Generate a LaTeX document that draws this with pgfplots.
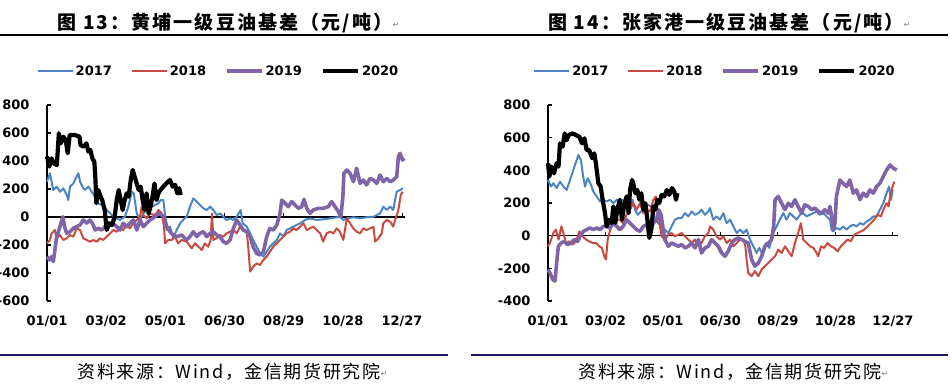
\documentclass[border=0pt]{standalone}
\usepackage{pgfplots}
\pgfplotsset{compat=1.18}
\usepackage{fontspec}
\setmainfont{DejaVu Sans}
\newfontfamily\cjk[LetterSpace=11]{Noto Sans CJK SC}
\newfontfamily\cjksrc[LetterSpace=9]{Noto Sans CJK SC}
\definecolor{c17}{HTML}{4A84C4}
\definecolor{c18}{HTML}{C84A40}
\definecolor{c19}{HTML}{8064A8}
\definecolor{navy}{HTML}{1A1A5E}
\pgfplotsset{base/.style={
 scale only axis,
 axis y line*=left,
 axis x line*=bottom,
 x axis line style={draw=none},
 y axis line style={line width=1.2bp, black},
 xtick={0,60,120,180,240,300,360},
 xticklabels={01/01,03/02,05/01,06/30,08/29,10/28,12/27},
 xtick style={draw=none},
 ytick style={line width=1.2bp, black},
 ytick align=inside,
 major tick length=4bp,
 tick label style={font=\bfseries\fontsize{13bp}{15bp}\selectfont},
 xticklabel style={yshift=-11bp},
 yticklabel style={xshift=-14bp},
 legend columns=4,
 legend style={draw=none, fill=none, anchor=center, font=\bfseries\fontsize{13bp}{15bp}\selectfont, /tikz/every even column/.append style={column sep=17bp}},
 legend image code/.code={\draw[#1] (0bp,0bp) -- (35bp,0bp);},
 every axis plot/.append style={line join=round, mark=none},
 clip=false,
},
s17/.style={c17, line width=2bp},
s18/.style={c18, line width=2bp},
s19/.style={c19, line width=3.6bp},
s20/.style={black, line width=4.2bp},
}
\begin{document}
\begin{tikzpicture}
\useasboundingbox (0,0) rectangle (952bp,384bp);
% titles and rules
\node[font=\cjk\bfseries\fontsize{19bp}{22bp}\selectfont] at (225bp,361bp) {图 13：黄埔一级豆油基差（元/吨）};
\node[font=\cjk\bfseries\fontsize{19bp}{22bp}\selectfont] at (726bp,361bp) {图 14：张家港一级豆油基差（元/吨）};
\node[font=\fontsize{8bp}{9bp}\selectfont, text=gray] at (396bp,359bp) {↵};
\node[font=\fontsize{8bp}{9bp}\selectfont, text=gray] at (907bp,359bp) {↵};
\draw[line width=1.3bp] (0bp,349bp) -- (948bp,349bp);
\draw[navy, line width=1.3bp] (0bp,29bp) -- (448bp,29bp);
\draw[navy, line width=1.3bp] (471bp,29bp) -- (948bp,29bp);
\node[font=\cjksrc\fontsize{18bp}{20bp}\selectfont] at (229bp,12bp) {资料来源：Wind，金信期货研究院};
\node[font=\cjksrc\fontsize{18bp}{20bp}\selectfont] at (730bp,12bp) {资料来源：Wind，金信期货研究院};
\node[font=\fontsize{8bp}{9bp}\selectfont, text=gray] at (384bp,10bp) {↵};
\node[font=\fontsize{8bp}{9bp}\selectfont, text=gray] at (885bp,10bp) {↵};

% ---------------- left chart ----------------
\begin{axis}[base, at={(47bp,83bp)}, anchor=south west, width=358bp, height=196bp,
 xmin=0, xmax=363, ymin=-600, ymax=800,
 ytick={-600,-400,-200,0,200,400,600,800},
 yticklabels={-600,-400,-200,0,200,400,600,800},
 legend style={at={(0.479,1.1735)}}]
\draw[line width=1.2bp] (axis cs:0,0) -- (axis cs:363,0);
\draw[line width=1bp] (axis cs:60,0) -- (axis cs:60,28) (axis cs:120,0) -- (axis cs:120,28) (axis cs:180,0) -- (axis cs:180,28) (axis cs:240,0) -- (axis cs:240,28) (axis cs:300,0) -- (axis cs:300,28) (axis cs:360,0) -- (axis cs:360,28);
\addplot[s17] coordinates {(0,252)(3,312)(6.4,193)(9.8,217)(13.2,181)(16.6,205)(20,157)(21.6,121)(23.3,217)(26.7,240)(30,288)(31.8,312)(33.5,252)(36.8,205)(38.5,193)(42,217)(45.3,181)(48.7,145)(52,98)(55.4,86)(60.5,50)(64,26)(67.3,2)(70.7,-10)(74,-21)(79,2)(82.5,74)(86,181)(88,169)(91,26)(94.3,-21)(97.7,26)(101,50)(106,74)(113,98)(115.3,121)(118,121)(121.4,-93)(124.7,-69)(128,-152)(131.5,-93)(135,-45)(138,-21)(141.6,2)(145,74)(148.4,133)(151.8,110)(155,86)(158.5,62)(162,50)(165.3,74)(168.7,50)(172,14)(175.5,26)(178.8,2)(182,-21)(185.6,-10)(189,-21)(192.4,2)(196.4,50)(198.4,-45)(202.5,-69)(206,-117)(209,-164)(212.6,-212)(216,-260)(219.4,-283)(222.8,-248)(226,-212)(229.5,-188)(233,-164)(236.3,-117)(239.7,-140)(243,-93)(246.5,-81)(249.8,-69)(253,-57)(256.6,-45)(261.7,-21)(266.7,-10)(273.5,-21)(280,-17)(287,-10)(293.8,-2)(297,2)(300.5,-21)(304,-10)(310.7,-2)(317.4,-10)(324,-2)(331,2)(334.4,14)(337.7,26)(341,74)(344.5,50)(348,74)(351,50)(354.6,181)(358,193)(360.7,205)};
\addlegendentry{2017}
\addplot[s18] coordinates {(0,-188)(3,-164)(4.7,-117)(8,-93)(9.8,-152)(13,-129)(16.6,-164)(20,-152)(23.3,-129)(26.7,-140)(30,-81)(33.5,-93)(36.8,-152)(40.2,-164)(43.6,-176)(47,-164)(50.4,-176)(53.8,-152)(57,-164)(60.5,-140)(64,-117)(67.3,-93)(70.7,-105)(74,-81)(77.4,-93)(81,-57)(84,-81)(87.6,-45)(91,-21)(94.3,2)(96,74)(97.7,14)(101,-10)(104.5,26)(108,14)(111,26)(113,50)(116.3,26)(118.7,-69)(119.7,-188)(123,-164)(126.4,-164)(129.8,-140)(133,-188)(136.6,-164)(141.6,-176)(146.7,-224)(150,-188)(153.5,-212)(157,-236)(160,-188)(163.6,-212)(166,-164)(167.3,26)(168.7,-164)(172,-152)(175.5,-129)(178.8,-140)(182,-117)(185.6,-105)(189,-93)(192.4,-117)(195.7,-69)(199,-93)(202.5,-105)(204,-212)(206,-390)(209,-355)(212.6,-331)(216,-343)(219.4,-307)(222.8,-283)(226,-248)(229.5,-212)(233,-188)(236.3,-164)(239.7,-140)(243,-117)(246.5,-105)(250,-81)(253,-93)(256.6,-69)(260,-45)(263.4,-93)(266.7,-81)(270,-69)(273.5,-93)(277,-117)(280,-176)(283.6,-117)(287,-105)(290.4,-117)(293.8,-81)(297,-105)(300.5,-164)(304,-10)(307.3,-45)(310.7,-81)(314,-105)(317.4,-117)(320.8,-81)(324,-93)(327.6,-81)(331,-69)(332.7,-176)(336,-152)(339.4,-117)(341,-45)(344.5,-21)(348,-33)(351,-69)(353,-21)(356.3,50)(358.7,157)(360.7,181)};
\addlegendentry{2018}
\addplot[s19] coordinates {(0,-283)(2.4,-307)(4.7,-283)(6.4,-319)(8,-236)(9.8,-140)(13.2,-69)(16,2)(18.3,-81)(20,-117)(23.3,-105)(26.7,-81)(30,-69)(33.5,-57)(36.8,-21)(40.2,-45)(43.6,-21)(47,-57)(48.7,-93)(52,-81)(55.4,-93)(58.8,-69)(62,-69)(65.6,-45)(69,-57)(72.3,-81)(74,-93)(77.4,-45)(80.8,-69)(84,-45)(87.6,-21)(91,-93)(94.3,-21)(97.7,-69)(101,-45)(104.5,-21)(109.5,2)(113,26)(116.3,14)(118.7,2)(121.4,-69)(124.7,-105)(128,-129)(131.5,-140)(136.6,-129)(141.6,-164)(145,-140)(148.4,-105)(151.8,-140)(155,-117)(158.5,-105)(162,-140)(165.3,-117)(168.7,-105)(172,-129)(175.5,-140)(178.8,-176)(182,-188)(185.6,-164)(189,-81)(192.4,-21)(195.7,-57)(199,-93)(202.5,-105)(206,-140)(209,-212)(212.6,-260)(216,-271)(219.4,-248)(222.8,-140)(226,-81)(229.5,-93)(233,-57)(236.3,26)(238,121)(241.4,98)(244.8,74)(248,110)(251.5,86)(255,62)(258.3,74)(260.6,126)(263.4,62)(266.7,26)(270,50)(275,62)(280,62)(285.3,74)(288.7,110)(292,74)(295.5,38)(298,2)(300,145)(301,312)(304,336)(307.3,312)(310.7,252)(314,348)(317.4,240)(320.8,264)(324,229)(327.6,276)(331,264)(334.4,240)(337.7,300)(341,252)(344.5,276)(348,252)(351,264)(354.6,288)(356.3,431)(358,455)(360.4,407)(362.4,419)};
\addlegendentry{2019}
\addplot[s20] coordinates {(0,431)(2.4,360)(4.7,419)(7,383)(10,371)(12,598)(14,526)(16.5,574)(19,550)(21,455)(23,586)(28,586)(33,574)(34,514)(37,502)(40,526)(42,467)(44,479)(46,419)(48,395)(49,288)(50,98)(52,193)(54.4,145)(56,121)(58.5,50)(60.5,-93)(63,-45)(66,-57)(68.6,2)(70.7,121)(72.7,193)(74.7,121)(76.7,50)(78.8,121)(80.8,169)(82.8,145)(84.9,264)(86.9,336)(88.9,288)(90.9,240)(93,193)(95,217)(97,121)(99,50)(101,169)(103,26)(105,74)(107,145)(109,240)(111,121)(113,169)(115,193)(118,217)(121,240)(124.7,264)(127.5,217)(130,229)(132,169)(134,205)(135.6,157)};
\addlegendentry{2020}
\end{axis}

% ---------------- right chart ----------------
\begin{axis}[base, at={(548bp,83bp)}, anchor=south west, width=349.7bp, height=196bp,
 xmin=0, xmax=365, ymin=-400, ymax=800,
 ytick={-400,-200,0,200,400,600,800},
 yticklabels={-400,-200,0,200,400,600,800},
 legend style={at={(0.4776,1.1735)}}]
\draw[line width=1.2bp] (axis cs:0,0) -- (axis cs:365,0);
\draw[line width=1bp] (axis cs:60,0) -- (axis cs:60,24) (axis cs:120,0) -- (axis cs:120,24) (axis cs:180,0) -- (axis cs:180,24) (axis cs:240,0) -- (axis cs:240,24) (axis cs:300,0) -- (axis cs:300,24) (axis cs:360,0) -- (axis cs:360,24);
\addplot[s17] coordinates {(0,341)(3.1,301)(5.6,321)(9,291)(12.5,331)(16,301)(19.5,280)(23,341)(26.4,402)(30,463)(31.7,494)(34.4,463)(36.2,382)(38.6,301)(41.4,352)(44.9,311)(47.3,270)(50.8,240)(54.3,209)(57.7,220)(61.2,209)(64.7,220)(68.2,199)(71.7,220)(75,199)(78.6,220)(82,199)(85.6,179)(88.3,220)(90.8,159)(93.6,128)(97,148)(100.5,169)(104,189)(107.5,179)(111.7,98)(115,77)(118.6,57)(122,37)(125.6,16)(129,57)(132.5,98)(136,108)(139.5,108)(143,138)(146.4,118)(150,148)(153.4,128)(157,138)(160.3,159)(163.8,128)(167.3,148)(169,169)(172.5,98)(176,118)(179.5,98)(183,138)(186.4,77)(190,98)(193.4,57)(197,16)(200.3,37)(204,16)(207.3,37)(210.8,-24)(214.3,-65)(217.7,-106)(220.5,-75)(224,-116)(227.5,-45)(231,-75)(235,16)(238.6,57)(242,98)(245.6,138)(249,98)(252.5,138)(256,118)(259.5,98)(263,128)(266.4,138)(270,118)(273.4,128)(277,138)(280.3,148)(283.8,128)(287.3,138)(290.8,118)(294.3,98)(296,37)(297.7,26)(301,47)(304.7,37)(308,57)(311.7,37)(315,57)(318.6,67)(322,57)(325.6,77)(329,67)(332.5,87)(336,98)(339.5,118)(343,118)(346.4,159)(350,199)(353.4,260)(356,301)(358,220)(359.7,280)};
\addlegendentry{2017}
\addplot[s18] coordinates {(0,-65)(2,-45)(5.6,16)(8.3,37)(11,-24)(14,57)(16,16)(18.8,-45)(22.3,-35)(25.7,-55)(29.2,-35)(32.7,26)(36.2,-4)(39.7,-24)(43,-35)(46.6,-45)(50,-45)(53.6,-65)(56.3,-75)(58.8,-126)(60.5,-146)(62.3,-24)(64,16)(67.5,77)(71,98)(75,98)(78,77)(82,128)(85.6,159)(89,199)(92.5,159)(96,199)(99.5,138)(103,159)(106.4,148)(110,220)(112.7,240)(114.4,159)(117,57)(118.6,-4)(122,-24)(125.6,6)(129,16)(132.5,-4)(136,6)(139.5,16)(143,-4)(146.4,-24)(150,-45)(153.4,-24)(157,-65)(160.3,-45)(163.8,-4)(167.3,16)(169,57)(172.5,37)(176,-4)(179.5,-24)(183,-4)(186.4,-45)(190,-24)(193.4,-65)(197,-45)(200.3,-24)(204,-24)(206,-65)(207.3,-146)(209,-228)(212.5,-248)(216,-217)(219.5,-248)(223,-207)(226.4,-187)(230,-167)(233.4,-146)(237,-126)(240.3,-85)(243.8,-106)(247.3,-65)(250.8,-96)(254.3,-126)(257.7,-45)(261,16)(264,77)(266.4,-24)(270,-45)(273.4,-65)(277,-75)(280.3,-106)(282,-126)(285,-65)(288.3,-75)(291.8,-45)(295.3,-65)(298.8,-75)(302.3,-96)(305.7,-65)(309,-45)(312.7,-24)(316,-35)(319.7,6)(323,16)(326.6,26)(330,37)(333.6,57)(337,77)(340.5,98)(344,128)(347.5,118)(350,159)(353.4,199)(355.5,179)(357,240)(359.7,301)(361.4,331)};
\addlegendentry{2018}
\addplot[s19] coordinates {(0,-207)(2,-228)(4.9,-268)(7.3,-278)(9,-167)(10.8,-65)(13.6,-45)(17,-35)(20.5,-55)(24,-45)(27.5,-24)(31,-35)(33.4,-4)(36.9,26)(40.3,37)(43.8,47)(47.3,37)(50.8,47)(54.3,37)(57.7,57)(61.2,57)(64.7,47)(68.2,77)(71.7,57)(75,37)(78.6,57)(82,98)(85.6,77)(89,57)(92.5,37)(96,26)(99.5,57)(103,67)(106.4,37)(110,77)(113.4,98)(115.5,159)(118,128)(120.3,37)(122,-24)(125.6,-65)(129,-45)(132.5,-55)(136,-65)(139.5,-55)(143,-75)(146.4,-65)(150,-45)(153.4,-75)(157,-24)(160.3,-106)(163.8,-75)(167.3,-65)(170.8,-24)(174.3,-45)(177.7,-65)(181.2,-106)(184.7,-126)(188,-96)(191.7,-45)(195,-24)(198.6,-14)(202,-24)(205.6,-35)(209,-45)(212.5,-146)(216,-187)(219.5,-167)(223,-126)(226.4,-65)(230,-45)(233.4,-24)(235.5,57)(237,220)(240.3,240)(243.8,199)(247.3,159)(250.8,199)(254.3,179)(257.7,220)(261,179)(264.7,138)(268,189)(271.7,179)(275,159)(278.6,169)(282,148)(285.6,138)(289,159)(292.5,138)(294.3,179)(296,118)(297.7,37)(299.5,77)(301,240)(304.7,341)(308,321)(311.7,301)(315,341)(318.6,260)(322,280)(325.6,220)(329,260)(332.5,240)(336,280)(339.5,260)(343,301)(346.4,321)(350,362)(353.4,402)(357,433)(360.4,413)(364,402)};
\addlegendentry{2019}
\addplot[s20] coordinates {(0,443)(1.4,362)(3.5,423)(6.3,382)(9,443)(11,423)(12.5,565)(15.3,545)(17.4,626)(19.5,585)(21.6,616)(25.7,626)(29.2,616)(32.7,606)(35.5,565)(38,596)(40.3,524)(43,524)(46,474)(48.3,504)(50,443)(52.5,321)(55,301)(57,220)(59.5,138)(61.2,57)(64,98)(66.4,77)(68.2,179)(70.3,77)(72.3,159)(75,220)(77.2,98)(79.3,179)(82,240)(84.2,138)(85.6,280)(87.7,341)(89,321)(91,260)(93.2,280)(95.3,220)(97.4,260)(99.5,159)(101.6,199)(103.7,98)(105.7,-14)(107.8,37)(110,179)(112,159)(114,220)(116,199)(118.6,250)(121.4,240)(124,280)(126.6,250)(129.4,291)(131.8,270)(133.6,220)(135,260)};
\addlegendentry{2020}
\end{axis}
\end{tikzpicture}
\end{document}
